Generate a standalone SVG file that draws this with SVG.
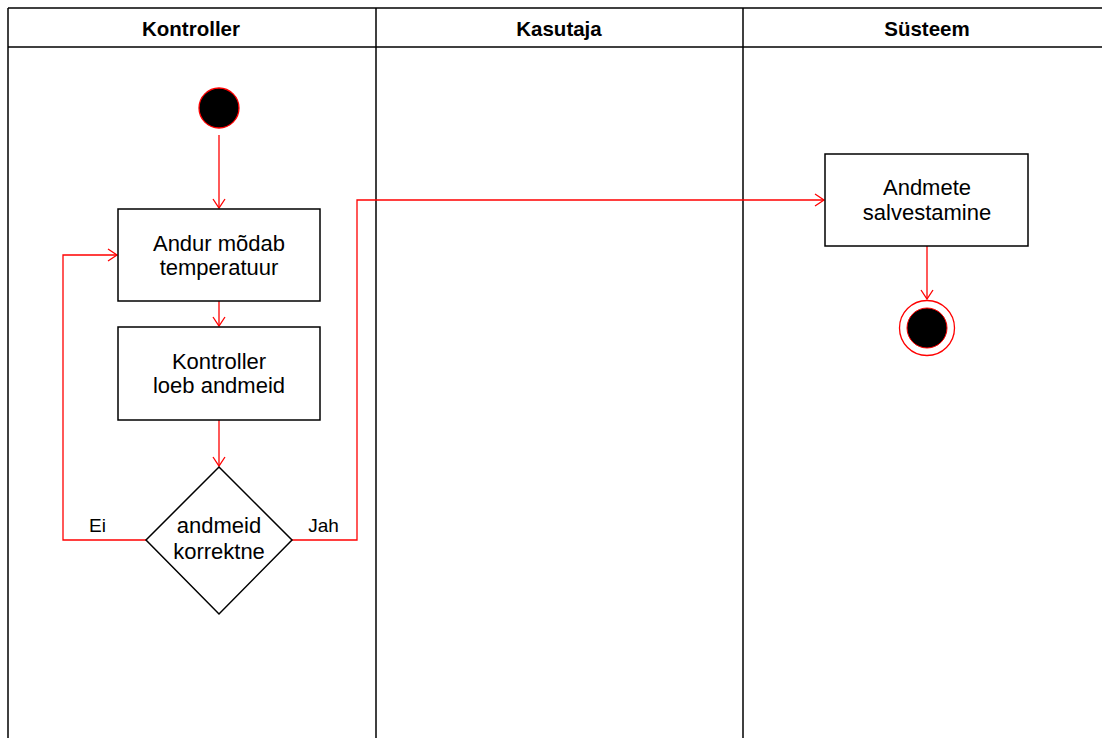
<svg xmlns="http://www.w3.org/2000/svg" width="1102" height="738" viewBox="0 0 1102 738">
  <style>
    .lane { fill: none; stroke: #000; stroke-width: 1.5; }
    .head { font-family: "Liberation Sans", Arial, sans-serif; font-size: 20.5px; font-weight: bold; fill: #000; text-anchor: middle; }
    .box { fill: #fff; stroke: #000; stroke-width: 1.5; }
    .label { font-family: "Liberation Sans", Arial, sans-serif; font-size: 22px; fill: #000; text-anchor: middle; }
    .elabel { font-family: "Liberation Sans", Arial, sans-serif; font-size: 19px; fill: #000; text-anchor: middle; }
    .flow { fill: none; stroke: #ff0000; stroke-width: 1.3; }
  </style>
  <defs>
    <marker id="open" markerWidth="12" markerHeight="14" refX="10" refY="7" orient="auto" markerUnits="userSpaceOnUse">
      <path d="M1,1 L10,7 L1,13" fill="none" stroke="#ff0000" stroke-width="1.3"/>
    </marker>
  </defs>
  <rect width="1102" height="738" fill="#fff"/>

  <!-- swimlanes -->
  <g id="lanes">
    <line class="lane" x1="8" y1="8" x2="1102" y2="8"/>
    <line class="lane" x1="8" y1="47" x2="1102" y2="47"/>
    <line class="lane" x1="8" y1="8" x2="8" y2="738"/>
    <line class="lane" x1="376" y1="8" x2="376" y2="738"/>
    <line class="lane" x1="743" y1="8" x2="743" y2="738"/>
    <text class="head" x="191" y="36">Kontroller</text>
    <text class="head" x="559" y="36">Kasutaja</text>
    <text class="head" x="927" y="36">Süsteem</text>
  </g>

  <!-- connectors -->
  <g id="connectors">
    <line class="flow" x1="219" y1="135" x2="219" y2="208" marker-end="url(#open)"/>
    <line class="flow" x1="219" y1="301" x2="219" y2="326" marker-end="url(#open)"/>
    <line class="flow" x1="219" y1="420" x2="219" y2="466" marker-end="url(#open)"/>
    <polyline class="flow" points="146,540 63,540 63,255 117,255" marker-end="url(#open)"/>
    <polyline class="flow" points="292,540 357,540 357,200 824,200" marker-end="url(#open)"/>
    <line class="flow" x1="927" y1="246" x2="927" y2="299" marker-end="url(#open)"/>
    <text class="elabel" x="97.5" y="532">Ei</text>
    <text class="elabel" x="323.5" y="532">Jah</text>
  </g>

  <g id="start">
    <circle cx="219" cy="108" r="20" fill="#000" stroke="#ff0000" stroke-width="1.3"/>
  </g>

  <g id="measure">
    <rect class="box" x="118" y="209" width="202" height="92"/>
    <text class="label" x="219" y="251">Andur mõdab</text>
    <text class="label" x="219" y="275">temperatuur</text>
  </g>

  <g id="read">
    <rect class="box" x="118" y="327" width="202" height="93"/>
    <text class="label" x="219" y="369">Kontroller</text>
    <text class="label" x="219" y="393">loeb andmeid</text>
  </g>

  <g id="check">
    <polygon class="box" points="219,467 292,540 219,614 146,540"/>
    <text class="label" x="219" y="533">andmeid</text>
    <text class="label" x="219" y="559">korrektne</text>
  </g>

  <g id="save">
    <rect class="box" x="825" y="154" width="203" height="92"/>
    <text class="label" x="927" y="195">Andmete</text>
    <text class="label" x="927" y="220">salvestamine</text>
  </g>

  <g id="end">
    <circle cx="927" cy="328" r="27.5" fill="#fff" stroke="#ff0000" stroke-width="1.3"/>
    <circle cx="927" cy="328" r="20" fill="#000" stroke="#ff0000" stroke-width="1"/>
  </g>
</svg>
